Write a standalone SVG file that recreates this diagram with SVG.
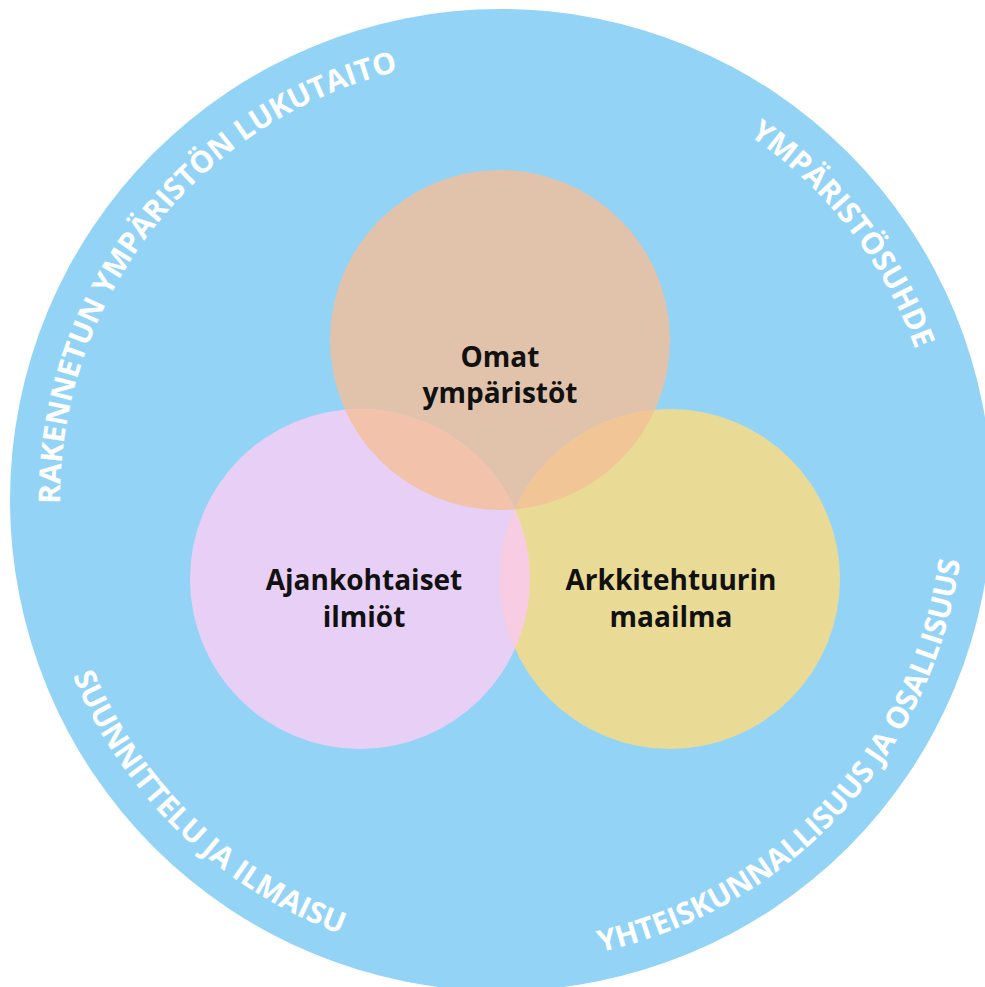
<svg xmlns="http://www.w3.org/2000/svg" xmlns:xlink="http://www.w3.org/1999/xlink" width="985" height="987" viewBox="0 0 985 987">
<style>
.ring{font-family:"Open Sans","Liberation Sans",sans-serif;font-weight:700;font-size:30px;fill:#ffffff}
.lbl{font-family:"Open Sans","Liberation Sans",sans-serif;font-weight:700;font-size:28px;fill:#111111;text-anchor:middle}
</style>
<defs>
<path id="topArc" d="M 66.7,576.6 A 441 441 0 1 1 935.3,576.6"/>
<path id="botArc" d="M 45.0,419.6 A 463 463 0 1 0 957.0,419.6"/>
<clipPath id="cTop"><circle cx="500" cy="340" r="170"/></clipPath>
<clipPath id="cLeft"><circle cx="360" cy="579" r="170"/></clipPath>
</defs>
<rect width="985" height="987" fill="#ffffff"/>
<g id="outer">
<circle cx="501" cy="500" r="491" fill="#93D4F6"/>
<text class="ring" text-anchor="middle"><textPath xlink:href="#topArc" href="#topArc" startOffset="369.5">RAKENNETUN YMPÄRISTÖN LUKUTAITO</textPath></text>
<text class="ring" text-anchor="middle"><textPath xlink:href="#topArc" href="#topArc" startOffset="1171">YMPÄRISTÖSUHDE</textPath></text>
<text class="ring" text-anchor="middle"><textPath xlink:href="#botArc" href="#botArc" startOffset="452.5">SUUNNITTELU JA ILMAISU</textPath></text>
<text class="ring" text-anchor="middle"><textPath xlink:href="#botArc" href="#botArc" startOffset="1191">YHTEISKUNNALLISUUS JA OSALLISUUS</textPath></text>
</g>
<g id="node-omat">
<circle cx="500" cy="340" r="170" fill="#E1C2AB"/>
</g>
<g id="node-ajankohtaiset">
<circle cx="360" cy="579" r="170" fill="#E8CFF6"/>
</g>
<g id="node-arkkitehtuuri">
<circle cx="670" cy="579" r="170" fill="#E9DB96"/>
</g>
<g id="overlaps">
<g clip-path="url(#cTop)"><circle cx="360" cy="579" r="170" fill="#F2C2AA"/></g>
<g clip-path="url(#cTop)"><circle cx="670" cy="579" r="170" fill="#F2C597"/></g>
<g clip-path="url(#cLeft)"><circle cx="670" cy="579" r="170" fill="#F8CDE3"/></g>
</g>
<g id="labels">
<text class="lbl" x="500" y="367">Omat</text>
<text class="lbl" x="500" y="403">ympäristöt</text>
<text class="lbl" x="364" y="590">Ajankohtaiset</text>
<text class="lbl" x="364" y="627">ilmiöt</text>
<text class="lbl" x="671" y="590">Arkkitehtuurin</text>
<text class="lbl" x="671" y="627">maailma</text>
</g>
</svg>
